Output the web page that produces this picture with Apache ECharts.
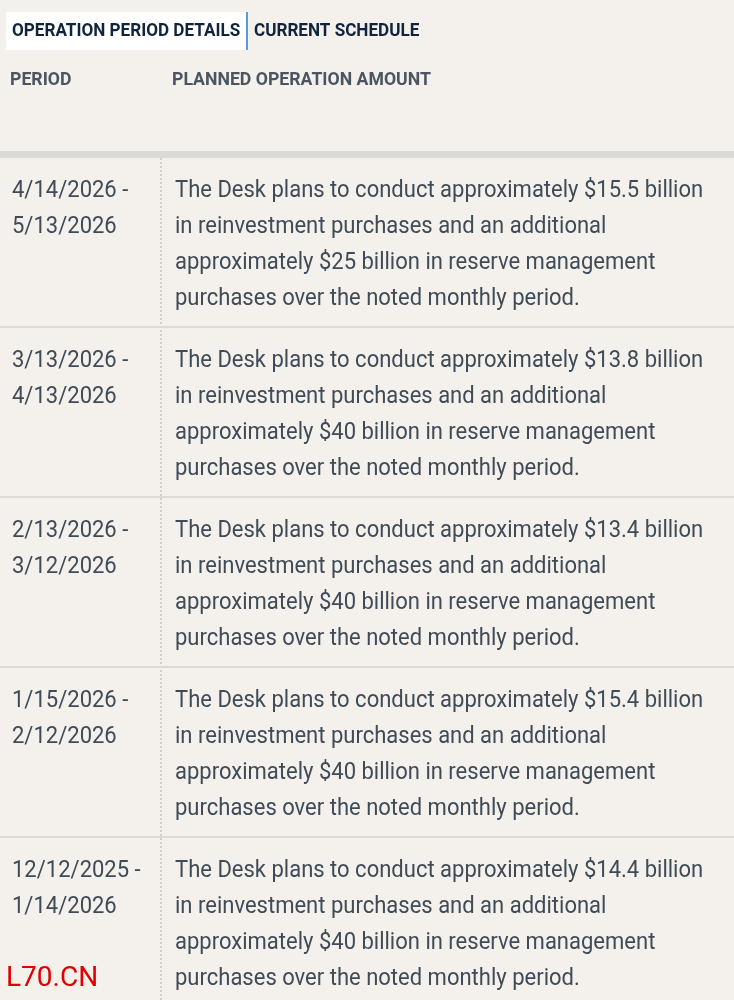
<!DOCTYPE html>
<html>
<head>
<meta charset="utf-8">
<script src="https://cdn.jsdelivr.net/npm/echarts@6/dist/echarts.min.js"></script>
<style>html,body{margin:0;padding:0;background:#f4f1ed;}#main{width:734px;height:1000px;}</style>
</head>
<body>
<div id="main"></div>
<script>
var periodStart = ['4/14/2026 -', '3/13/2026 -', '2/13/2026 -', '1/15/2026 -', '12/12/2025 -'];
var periodEnd = ['5/13/2026', '4/13/2026', '3/12/2026', '2/12/2026', '1/14/2026'];
var reinvest = [15.5, 13.8, 13.4, 15.4, 14.4];
var reserve = [25, 40, 40, 40, 40];

var chart = echarts.init(document.getElementById('main'));
var g = [];

function txt(x, y, s, font, color, sx) {
    g.push({type: 'text', x: x, y: y, scaleX: sx,
        style: {text: s, font: font, fill: color, verticalAlign: 'middle'}});
}

// tabs
g.push({type: 'rect', shape: {x: 6, y: 12, width: 240, height: 38}, style: {fill: '#ffffff'}});
g.push({type: 'rect', shape: {x: 246, y: 12, width: 2, height: 38}, style: {fill: '#5b9bd5'}});
txt(12, 31, 'OPERATION PERIOD DETAILS', 'bold 19px Roboto', '#10243e', 0.9);
txt(254, 31, 'CURRENT SCHEDULE', 'bold 19px Roboto', '#10243e', 0.9);

// header
txt(10, 80, 'PERIOD', 'bold 19px Roboto', '#4a5561', 0.93);
txt(172, 80, 'PLANNED OPERATION AMOUNT', 'bold 19px Roboto', '#4a5561', 0.93);
g.push({type: 'rect', shape: {x: 0, y: 151, width: 734, height: 7}, style: {fill: '#dcdad6'}});

// dotted column divider
g.push({type: 'line', shape: {x1: 161, y1: 158, x2: 161, y2: 1000},
    style: {stroke: '#d2d0cc', lineWidth: 2, lineDash: [2, 2]}});

var rowH = 170, top0 = 158, font = '24px Roboto', col = '#3f4b56', SX = 0.917;
for (var i = 0; i < periodStart.length; i++) {
    var y = top0 + i * rowH + 33;
    txt(12, y, periodStart[i], font, col, SX);
    txt(12, y + 36, periodEnd[i], font, col, SX);
    var lines = [
        'The Desk plans to conduct approximately $' + reinvest[i] + ' billion',
        'in reinvestment purchases and an additional',
        'approximately $' + reserve[i] + ' billion in reserve management',
        'purchases over the noted monthly period.'
    ];
    for (var k = 0; k < lines.length; k++) txt(175, y + k * 36, lines[k], font, col, SX);
    if (i > 0) g.push({type: 'rect', shape: {x: 0, y: top0 + i * rowH - 2, width: 734, height: 2}, style: {fill: '#dcdad6'}});
}

txt(6, 979, 'L70.CN', '28px Roboto', '#e00000', 1);

chart.setOption({backgroundColor: '#f4f1ed', graphic: g});
</script>
</body>
</html>
